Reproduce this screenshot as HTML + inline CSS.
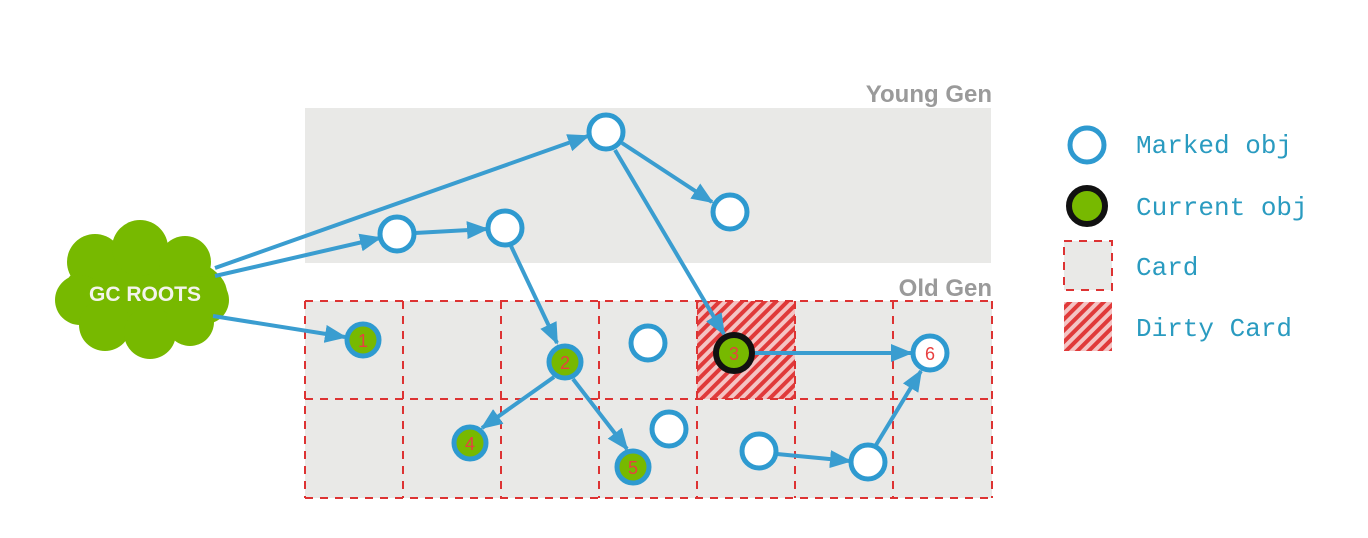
<!DOCTYPE html>
<html><head><meta charset="utf-8"><style>
html,body{margin:0;padding:0;background:#fff;}
svg{display:block;}
</style></head><body>
<svg width="1368" height="538" viewBox="0 0 1368 538" xmlns="http://www.w3.org/2000/svg">
<defs>
<pattern id="hatch" patternUnits="userSpaceOnUse" width="8" height="8" patternTransform="rotate(45)">
<rect width="8" height="8" fill="#f4c4c4"/><rect width="4" height="8" fill="#e03a3a"/>
</pattern>
<marker id="arrB" markerWidth="22" markerHeight="18" refX="20" refY="9" orient="auto" markerUnits="userSpaceOnUse" viewBox="0 0 22 18">
<path d="M0,0 L22,9 L0,18 z" fill="#3a9dd0"/>
</marker>
</defs>
<rect x="305" y="108" width="686" height="155" fill="#e9e9e7"/>
<text x="992" y="102" text-anchor="end" font-family="Liberation Sans, sans-serif" font-weight="bold" font-size="24" fill="#9a9a9a">Young Gen</text>
<rect x="305" y="301" width="687" height="197" fill="#e9e9e7"/>
<text x="992" y="296" text-anchor="end" font-family="Liberation Sans, sans-serif" font-weight="bold" font-size="24" fill="#9a9a9a">Old Gen</text>
<rect x="697" y="301" width="98" height="98" fill="url(#hatch)"/>
<g stroke="#dd3333" stroke-width="2" stroke-dasharray="8,7" fill="none">
<line x1="305" y1="301" x2="992" y2="301"/><line x1="305" y1="399" x2="992" y2="399"/><line x1="305" y1="498" x2="992" y2="498"/>
<line x1="305" y1="301" x2="305" y2="498"/><line x1="403" y1="301" x2="403" y2="498"/><line x1="501" y1="301" x2="501" y2="498"/>
<line x1="599" y1="301" x2="599" y2="498"/><line x1="697" y1="301" x2="697" y2="498"/><line x1="795" y1="301" x2="795" y2="498"/>
<line x1="893" y1="301" x2="893" y2="498"/><line x1="992" y1="301" x2="992" y2="498"/>
</g>
<g>
<g fill="#77b900">
<ellipse cx="145" cy="293" rx="82" ry="42"/>
<circle cx="95" cy="262" r="28"/><circle cx="140" cy="248" r="28"/><circle cx="185" cy="262" r="26"/>
<circle cx="80" cy="300" r="25"/><circle cx="205" cy="300" r="24"/>
<circle cx="105" cy="325" r="26"/><circle cx="150" cy="333" r="26"/><circle cx="190" cy="322" r="24"/>
</g>
<text x="145" y="301" text-anchor="middle" font-family="Liberation Sans, sans-serif" font-weight="bold" font-size="21" fill="#f4f4ec">GC ROOTS</text>
</g>
<g stroke="#3a9dd0" stroke-width="4" fill="none" marker-end="url(#arrB)">
<line x1="215" y1="268" x2="588" y2="136"/>
<line x1="215" y1="276" x2="380" y2="238"/>
<line x1="213" y1="316" x2="345" y2="337"/>
<line x1="415" y1="233" x2="487" y2="229"/>
<line x1="622" y1="143" x2="712" y2="202"/>
<line x1="615" y1="150" x2="724" y2="334"/>
<line x1="511" y1="246" x2="557" y2="343"/>
<line x1="554" y1="377" x2="482" y2="428"/>
<line x1="573" y1="379" x2="627" y2="449"/>
<line x1="753" y1="353" x2="911" y2="353"/>
<line x1="777" y1="454" x2="850" y2="461"/>
<line x1="876" y1="445" x2="921" y2="371"/>
</g>
<g stroke="#2e9ad0" stroke-width="5" font-family="Liberation Sans, sans-serif" font-size="18" text-anchor="middle">
<circle cx="606" cy="132" r="17" fill="#fff"/>
<circle cx="730" cy="212" r="17" fill="#fff"/>
<circle cx="397" cy="234" r="17" fill="#fff"/>
<circle cx="505" cy="228" r="17" fill="#fff"/>
<circle cx="363" cy="340" r="16" fill="#77b900"/>
<circle cx="565" cy="362" r="16" fill="#77b900"/>
<circle cx="470" cy="443" r="16" fill="#77b900"/>
<circle cx="633" cy="467" r="16" fill="#77b900"/>
<circle cx="648" cy="343" r="17" fill="#fff"/>
<circle cx="669" cy="429" r="17" fill="#fff"/>
<circle cx="759" cy="451" r="17" fill="#fff"/>
<circle cx="868" cy="462" r="17" fill="#fff"/>
<circle cx="930" cy="353" r="17" fill="#fff"/>
<circle cx="734" cy="353" r="18" fill="#77b900" stroke="#111" stroke-width="6"/>
<g stroke="none" fill="#e84040">
<text x="363" y="347">1</text><text x="565" y="369">2</text><text x="734" y="360">3</text>
<text x="470" y="450">4</text><text x="633" y="474">5</text><text x="930" y="360">6</text>
</g>
</g>
<g font-family="Liberation Mono, monospace" font-size="26" fill="#2a9bc0">
<circle cx="1087" cy="145" r="17" fill="#fff" stroke="#2e9ad0" stroke-width="5"/>
<text x="1136" y="153">Marked obj</text>
<circle cx="1087" cy="206" r="18" fill="#77b900" stroke="#111" stroke-width="6"/>
<text x="1136" y="215">Current obj</text>
<rect x="1064" y="241" width="48" height="49" fill="#e9e9e7" stroke="#dd3333" stroke-width="2" stroke-dasharray="8,7"/>
<text x="1136" y="275">Card</text>
<rect x="1064" y="302" width="48" height="49" fill="url(#hatch)"/>
<text x="1136" y="336">Dirty Card</text>
</g>
</svg>
</body></html>
